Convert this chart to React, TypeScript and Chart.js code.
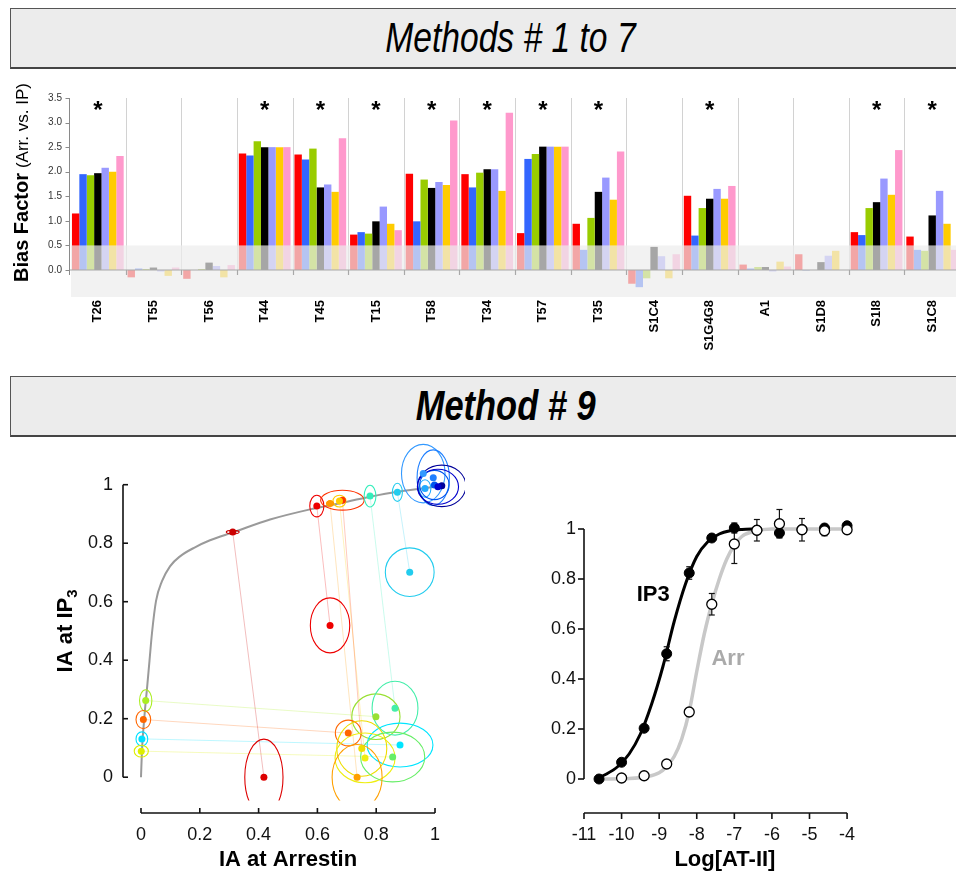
import React, { useEffect, useRef } from "react";
import { Chart, registerables } from "chart.js";

Chart.register(...registerables);

const FONT = "'Liberation Sans', Arial, Helvetica, sans-serif";
Chart.defaults.font.family = FONT;

// ---------------- Methods # 1 to 7 : bias factors ----------------
const categories = ["T26", "T55", "T56", "T44", "T45", "T15", "T58", "T34", "T57", "T35", "S1C4", "S1G4G8", "A1", "S1D8", "S1I8", "S1C8"];
const method1 = [1.15, -0.15, -0.18, 2.37, 2.35, 0.72, 1.96, 1.95, 0.75, 0.94, -0.28, 1.51, 0.11, 0.32, 0.77, 0.68];
const method2 = [1.95, 0.03, 0.0, 2.33, 2.25, 0.77, 0.99, 1.68, 2.26, 0.41, -0.35, 0.7, 0.03, -0.01, 0.71, 0.41];
const method3 = [1.93, 0.02, 0.02, 2.62, 2.47, 0.74, 1.84, 1.98, 2.36, 1.06, -0.17, 1.26, 0.06, 0.0, 1.26, 0.39];
const method4 = [1.97, 0.05, 0.15, 2.5, 1.68, 0.99, 1.67, 2.05, 2.51, 1.59, 0.47, 1.45, 0.06, 0.16, 1.38, 1.11];
const method5 = [2.08, -0.03, 0.08, 2.5, 1.74, 1.29, 1.79, 2.05, 2.51, 1.88, 0.28, 1.65, -0.03, 0.29, 1.86, 1.61];
const method6 = [2.0, -0.12, -0.15, 2.5, 1.59, 0.94, 1.73, 1.61, 2.51, 1.43, -0.17, 1.45, 0.17, 0.39, 1.53, 0.94];
const method7 = [2.32, 0.05, 0.1, 2.5, 2.68, 0.81, 3.04, 3.2, 2.51, 2.41, 0.32, 1.71, 0.07, 0.0, 2.44, 0.41];
const methodSeries = [method1, method2, method3, method4, method5, method6, method7];
const methodColors = ["#ff0000", "#3366ff", "#99cc00", "#000000", "#9999ff", "#ffcc00", "#ff99cc"];
const significant = [true, false, false, true, true, true, true, true, true, true, false, true, false, false, true, true];
const biasTicks = [0, 0.5, 1.0, 1.5, 2.0, 2.5, 3.0, 3.5];
const biasRange = [-0.55, 3.5];
const neutralBand = [-0.55, 0.5];

// ---------------- Method # 9 : IA scatter ----------------
const iaArrestin = [0.312, 0.598, 0.643, 0.685, 0.675, 0.643, 0.779, 0.872, 0.914, 0.96, 0.994, 0.966, 0.998, 1.023, 1.01, 0.016, 0.008, 0.003, 0.001, 0.799, 0.864, 0.705, 0.881, 0.751, 0.762, 0.856, 0.735, 0.418];
const iaIP3 = [0.838, 0.927, 0.519, 0.947, 0.944, 0.936, 0.961, 0.974, 0.701, 1.038, 1.024, 0.987, 0.999, 0.996, 0.993, 0.262, 0.197, 0.131, 0.089, 0.207, 0.236, 0.151, 0.11, 0.098, 0.066, 0.069, 0.0, 0.0];
const errArrestin = [0.022, 0.024, 0.067, 0.074, 0.022, 0.012, 0.02, 0.017, 0.083, 0.074, 0.055, 0.02, 0.05, 0.082, 0.07, 0.021, 0.025, 0.02, 0.024, 0.082, 0.078, 0.044, 0.112, 0.085, 0.102, 0.109, 0.085, 0.065];
const errIP3 = [0.006, 0.037, 0.094, 0.034, 0.02, 0.008, 0.037, 0.031, 0.083, 0.1, 0.095, 0.03, 0.05, 0.071, 0.06, 0.037, 0.031, 0.024, 0.02, 0.078, 0.092, 0.044, 0.075, 0.095, 0.085, 0.085, 0.112, 0.13];
const ligandColors = ["#cc0000", "#ee0000", "#ee0000", "#ff3300", "#ffcc00", "#ff9900", "#33eebb", "#22ccee", "#22ccee", "#3399ff", "#1e7fff", "#22aaff", "#0055ee", "#000099", "#0000cc", "#aaee22", "#ff6600", "#00e0ff", "#ddee00", "#99e033", "#44eeaa", "#ff6600", "#00e5ff", "#eedd00", "#eeee11", "#66ee66", "#ffa000", "#dd0000"];
const pairFrom = [0, 1, 5, 3, 4, 6, 7, 15, 16, 17, 18];
const pairTo = [27, 2, 26, 23, 24, 20, 8, 19, 21, 22, 25];
const curveArrestin = [0, 0.0034, 0.0119, 0.0204, 0.0289, 0.0374, 0.051, 0.0714, 0.0986, 0.1327, 0.1837, 0.2347, 0.313, 0.439, 0.585, 0.701, 0.779, 0.871, 0.949, 0.997];
const curveIP3 = [0, 0.092, 0.211, 0.303, 0.398, 0.493, 0.602, 0.67, 0.721, 0.755, 0.786, 0.81, 0.837, 0.881, 0.918, 0.942, 0.959, 0.976, 0.986, 0.993];
const iaTicks = [0, 0.2, 0.4, 0.6, 0.8, 1];

// ---------------- Dose response ----------------
const logConc = [-10.6, -10, -9.4, -8.8, -8.2, -7.6, -7, -6.4, -5.8, -5.2, -4.6, -4];
const ip3Resp = [0.0, 0.067, 0.203, 0.501, 0.824, 0.964, 1.004, 0.995, 0.984, 0.998, 1.004, 1.013];
const ip3Err = [0, 0.01, 0.01, 0.028, 0.025, 0.01, 0.02, 0.01, 0.017, 0.01, 0.008, 0.005];
const arrResp = [null, 0.004, 0.013, 0.06, 0.268, 0.699, 0.94, 0.995, 1.021, 0.997, 0.993, 0.997];
const arrErr = [0, 0, 0, 0.005, 0.015, 0.043, 0.078, 0.043, 0.057, 0.045, 0.02, 0.005];
const ip3CurveX = [-10.7, -10.4, -10.1, -9.8, -9.5, -9.2, -8.9, -8.6, -8.3, -8.0, -7.7, -7.4, -7.1, -6.8, -6.4];
const ip3CurveY = [0.0, 0.02, 0.05, 0.1, 0.18, 0.3, 0.45, 0.63, 0.78, 0.89, 0.95, 0.98, 0.993, 0.998, 1.0];
const arrCurveX = [-10.6, -9.8, -9.3, -9.0, -8.8, -8.6, -8.4, -8.2, -8.0, -7.8, -7.6, -7.4, -7.2, -7.0, -6.8, -6.5, -6.0, -4];
const arrCurveY = [0.0, 0.002, 0.01, 0.025, 0.05, 0.09, 0.16, 0.27, 0.43, 0.58, 0.7, 0.8, 0.88, 0.935, 0.97, 0.99, 1.0, 1.0];
const logTicks = [-11, -10, -9, -8, -7, -6, -5, -4];
const respTicks = [0, 0.2, 0.4, 0.6, 0.8, 1];

function hexToRgba(hex: string, a: number) {
  const n = parseInt(hex.slice(1), 16);
  return `rgba(${(n >> 16) & 255},${(n >> 8) & 255},${n & 255},${a})`;
}
function fmt(v: any) {
  return String(Math.round(Number(v) * 10) / 10);
}
function seg(ctx: any, x1: number, y1: number, x2: number, y2: number) {
  ctx.beginPath();
  ctx.moveTo(x1, y1);
  ctx.lineTo(x2, y2);
  ctx.stroke();
}
function fixY(width: number) {
  return (s: any) => {
    s.width = width;
    s.paddingTop = 0;
    s.paddingBottom = 0;
  };
}
function fixX(height: number) {
  return (s: any) => {
    s.height = height;
    s.paddingLeft = 0;
    s.paddingRight = 0;
  };
}

// ---------------- plugins ----------------
const biasPlugin = {
  id: "biasDecor",
  beforeDatasetsDraw(chart: any) {
    const { ctx, scales: { x, y } } = chart;
    const y0 = y.getPixelForValue(0);
    const yTop = y.getPixelForValue(biasTicks[biasTicks.length - 1]);
    ctx.save();
    ctx.strokeStyle = "#d2d2d2";
    ctx.lineWidth = 1;
    for (let i = 1; i < categories.length; i++) {
      const bx = Math.round((x.getPixelForValue(i - 1) + x.getPixelForValue(i)) / 2) + 0.5;
      seg(ctx, bx, yTop, bx, y0);
    }
    ctx.restore();
  },
  afterDatasetsDraw(chart: any) {
    const { ctx, chartArea, scales: { x, y } } = chart;
    const y0 = y.getPixelForValue(0);
    const yTop = y.getPixelForValue(biasTicks[biasTicks.length - 1]);
    ctx.save();
    const bTop = y.getPixelForValue(neutralBand[1]);
    const bBot = y.getPixelForValue(neutralBand[0]);
    ctx.fillStyle = "rgba(236,236,236,0.7)";
    ctx.fillRect(chartArea.left + 1, bTop, chartArea.right - chartArea.left, bBot - bTop);
    ctx.strokeStyle = "#a8a8a8";
    ctx.lineWidth = 1.2;
    seg(ctx, chartArea.left, y0, chartArea.right, y0);
    for (let i = 1; i < categories.length; i++) {
      const bx = Math.round((x.getPixelForValue(i - 1) + x.getPixelForValue(i)) / 2) + 0.5;
      seg(ctx, bx, y0, bx, y0 + 5);
    }
    ctx.strokeStyle = "#8a8a8a";
    ctx.lineWidth = 1;
    const lx = Math.round(chartArea.left) - 0.5;
    seg(ctx, lx, yTop, lx, y0 + 5);
    biasTicks.forEach((t) => {
      const py = Math.round(y.getPixelForValue(t)) + 0.5;
      seg(ctx, lx - 4, py, lx, py);
    });
    ctx.fillStyle = "#000";
    ctx.font = `bold 24px ${FONT}`;
    ctx.textAlign = "center";
    ctx.textBaseline = "alphabetic";
    significant.forEach((s, i) => {
      if (s) ctx.fillText("*", x.getPixelForValue(i), yTop + 20);
    });
    ctx.translate(22, y0 + 12);
    ctx.rotate(-Math.PI / 2);
    ctx.textAlign = "left";
    ctx.textBaseline = "middle";
    ctx.font = `bold 20px ${FONT}`;
    ctx.fillText("Bias Factor", 0, 0);
    const w = ctx.measureText("Bias Factor").width + 5;
    ctx.font = `17px ${FONT}`;
    ctx.fillText("(Arr. vs. IP)", w, 1);
    ctx.restore();
  },
};

const iaPlugin = {
  id: "iaDecor",
  beforeDatasetDraw(chart: any, args: any) {
    if (args.index !== 0) return;
    const { ctx, chartArea, scales: { x, y } } = chart;
    ctx.save();
    ctx.beginPath();
    ctx.rect(chartArea.left, chartArea.top - 10, chartArea.right - chartArea.left, y.getPixelForValue(-0.08) - chartArea.top + 10);
    ctx.clip();
    ctx.lineWidth = 1.1;
    for (let i = 0; i < iaArrestin.length; i++) {
      const cx = x.getPixelForValue(iaArrestin[i]);
      const cy = y.getPixelForValue(iaIP3[i]);
      const rx = Math.abs(x.getPixelForValue(iaArrestin[i] + errArrestin[i]) - cx);
      const ry = Math.abs(y.getPixelForValue(iaIP3[i] + errIP3[i]) - cy);
      ctx.strokeStyle = ligandColors[i];
      ctx.beginPath();
      ctx.ellipse(cx, cy, rx, ry, 0, 0, Math.PI * 2);
      ctx.stroke();
    }
    ctx.restore();
  },
  afterDraw(chart: any) {
    const { ctx, chartArea, scales: { x, y } } = chart;
    ctx.save();
    ctx.strokeStyle = "#111";
    ctx.lineWidth = 1.6;
    const ax = chartArea.left;
    const ay = chartArea.bottom;
    seg(ctx, ax, y.getPixelForValue(1), ax, y.getPixelForValue(0));
    iaTicks.forEach((t) => seg(ctx, ax, y.getPixelForValue(t), ax + 5, y.getPixelForValue(t)));
    seg(ctx, x.getPixelForValue(0), ay, x.getPixelForValue(1), ay);
    iaTicks.forEach((t) => seg(ctx, x.getPixelForValue(t), ay, x.getPixelForValue(t), ay - 5));
    ctx.fillStyle = "#000";
    ctx.font = `bold 22px ${FONT}`;
    ctx.textAlign = "center";
    ctx.textBaseline = "middle";
    ctx.fillText("IA at Arrestin", (x.getPixelForValue(0) + x.getPixelForValue(1)) / 2, ay + 47);
    ctx.translate(66, (y.getPixelForValue(0) + y.getPixelForValue(1)) / 2);
    ctx.rotate(-Math.PI / 2);
    ctx.textAlign = "left";
    const w1 = ctx.measureText("IA at IP").width;
    ctx.font = `bold 15px ${FONT}`;
    const w2 = ctx.measureText("3").width;
    const start = -(w1 + w2) / 2;
    ctx.font = `bold 22px ${FONT}`;
    ctx.fillText("IA at IP", start, 0);
    ctx.font = `bold 15px ${FONT}`;
    ctx.fillText("3", start + w1, 7);
    ctx.restore();
  },
};

const drPlugin = {
  id: "drDecor",
  beforeDatasetDraw(chart: any, args: any) {
    if (args.index !== 1) return;
    const { ctx, scales: { x, y } } = chart;
    ctx.save();
    ctx.strokeStyle = "#111";
    ctx.lineWidth = 1.2;
    const bar = (cx: number, v: number, e: number) => {
      if (!e) return;
      const px = x.getPixelForValue(cx);
      const top = y.getPixelForValue(v + e);
      const bot = y.getPixelForValue(v - e);
      seg(ctx, px, top, px, bot);
      seg(ctx, px - 3, top, px + 3, top);
      seg(ctx, px - 3, bot, px + 3, bot);
    };
    logConc.forEach((c, i) => {
      bar(c, ip3Resp[i], ip3Err[i]);
      if (arrResp[i] !== null) bar(c, arrResp[i] as number, arrErr[i]);
    });
    ctx.restore();
  },
  afterDatasetsDraw(chart: any) {
    const { ctx, scales: { x, y } } = chart;
    ctx.save();
    ctx.font = `bold 22px ${FONT}`;
    ctx.textAlign = "center";
    ctx.textBaseline = "middle";
    ctx.fillStyle = "#000";
    ctx.fillText("IP3", x.getPixelForValue(-9.16), y.getPixelForValue(0.737));
    ctx.fillStyle = "#aaaaaa";
    ctx.fillText("Arr", x.getPixelForValue(-7.17), y.getPixelForValue(0.48));
    ctx.restore();
  },
  afterDraw(chart: any) {
    const { ctx, chartArea, scales: { x, y } } = chart;
    ctx.save();
    ctx.strokeStyle = "#111";
    ctx.lineWidth = 1.6;
    const ax = chartArea.left;
    const ay = chartArea.bottom;
    seg(ctx, ax, y.getPixelForValue(1), ax, y.getPixelForValue(0));
    respTicks.forEach((t) => seg(ctx, ax - 6, y.getPixelForValue(t), ax, y.getPixelForValue(t)));
    seg(ctx, x.getPixelForValue(logTicks[0]), ay, x.getPixelForValue(logTicks[logTicks.length - 1]), ay);
    logTicks.forEach((t) => seg(ctx, x.getPixelForValue(t), ay, x.getPixelForValue(t), ay + 6));
    ctx.fillStyle = "#000";
    ctx.font = `bold 22px ${FONT}`;
    ctx.textAlign = "center";
    ctx.textBaseline = "middle";
    ctx.fillText("Log[AT-II]", x.getPixelForValue(-7.25), ay + 47);
    ctx.restore();
  },
};

// ---------------- configs ----------------
function biasConfig(): any {
  return {
    type: "bar",
    data: {
      labels: categories,
      datasets: methodSeries.map((s, i) => ({
        label: `Method ${i + 1}`,
        data: s,
        backgroundColor: methodColors[i],
        borderWidth: 0,
        barPercentage: 1,
        categoryPercentage: 0.93,
      })),
    },
    options: {
      animation: false,
      responsive: false,
      layout: { padding: { top: 28, right: 0, left: 0, bottom: 0 } },
      plugins: { legend: { display: false }, tooltip: { enabled: false } },
      scales: {
        x: {
          grid: { display: false, drawTicks: false },
          border: { display: false },
          ticks: { font: { size: 13, weight: "bold" }, color: "#000", maxRotation: 90, minRotation: 90, autoSkip: false, padding: 3 },
          afterFit: fixX(63),
        },
        y: {
          min: biasRange[0],
          max: biasRange[1],
          grid: { display: false, drawTicks: false },
          border: { display: false },
          afterBuildTicks: (s: any) => { s.ticks = biasTicks.map((v) => ({ value: v })); },
          ticks: { callback: (v: any) => Number(v).toFixed(1), font: { size: 10 }, color: "#333", padding: 8 },
          afterFit: fixY(70),
        },
      },
    },
    plugins: [biasPlugin],
  };
}

function iaConfig(): any {
  const datasets: any[] = [];
  datasets.push({
    data: iaArrestin.map((v, i) => ({ x: v, y: iaIP3[i] })),
    pointRadius: 3.5,
    pointBackgroundColor: ligandColors,
    pointBorderWidth: 0,
    showLine: false,
  });
  pairFrom.forEach((f, k) => {
    const t = pairTo[k];
    datasets.push({
      data: [{ x: iaArrestin[f], y: iaIP3[f] }, { x: iaArrestin[t], y: iaIP3[t] }],
      showLine: true,
      borderColor: hexToRgba(ligandColors[f], 0.26),
      borderWidth: 1,
      pointRadius: 0,
    });
  });
  datasets.push({
    data: curveArrestin.map((v, i) => ({ x: v, y: curveIP3[i] })),
    showLine: true,
    borderColor: "#9a9a9a",
    borderWidth: 2,
    pointRadius: 0,
    cubicInterpolationMode: "monotone",
  });
  return {
    type: "scatter",
    data: { datasets },
    options: {
      animation: false,
      responsive: false,
      layout: { padding: { top: 2, right: 15, left: 0, bottom: 0 } },
      plugins: { legend: { display: false }, tooltip: { enabled: false } },
      scales: {
        x: {
          type: "linear",
          min: -0.0612,
          max: 1.102,
          grid: { display: false, drawTicks: false },
          border: { display: false },
          afterBuildTicks: (s: any) => { s.ticks = iaTicks.map((v) => ({ value: v })); },
          ticks: { callback: fmt, font: { size: 18 }, color: "#111", padding: 11 },
          afterFit: fixX(60),
        },
        y: {
          type: "linear",
          min: -0.1224,
          max: 1.146,
          grid: { display: false, drawTicks: false },
          border: { display: false },
          afterBuildTicks: (s: any) => { s.ticks = iaTicks.map((v) => ({ value: v })); },
          ticks: { callback: fmt, font: { size: 18 }, color: "#111", padding: 10 },
          afterFit: fixY(123),
        },
      },
    },
    plugins: [iaPlugin],
  };
}

function drConfig(): any {
  const arrPts: any[] = [];
  logConc.forEach((c, i) => {
    if (arrResp[i] !== null) arrPts.push({ x: c, y: arrResp[i] });
  });
  return {
    type: "scatter",
    data: {
      datasets: [
        { data: arrPts, pointRadius: 5, pointBackgroundColor: "#fff", pointBorderColor: "#000", pointBorderWidth: 1.3, showLine: false },
        { data: logConc.map((c, i) => ({ x: c, y: ip3Resp[i] })), pointRadius: 5, pointBackgroundColor: "#000", pointBorderColor: "#000", pointBorderWidth: 1, showLine: false },
        { data: ip3CurveX.map((c, i) => ({ x: c, y: ip3CurveY[i] })), showLine: true, borderColor: "#000", borderWidth: 3, pointRadius: 0, cubicInterpolationMode: "monotone" },
        { data: arrCurveX.map((c, i) => ({ x: c, y: arrCurveY[i] })), showLine: true, borderColor: "#c8c8c8", borderWidth: 3.5, pointRadius: 0, cubicInterpolationMode: "monotone" },
      ],
    },
    options: {
      animation: false,
      responsive: false,
      layout: { padding: { top: 62, right: 86, left: 0, bottom: 0 } },
      plugins: { legend: { display: false }, tooltip: { enabled: false } },
      scales: {
        x: {
          type: "linear",
          min: -11,
          max: -3.39,
          grid: { display: false, drawTicks: false },
          border: { display: false },
          afterBuildTicks: (s: any) => { s.ticks = logTicks.map((v) => ({ value: v })); },
          ticks: { callback: fmt, font: { size: 18 }, color: "#111", padding: 11 },
          afterFit: fixX(60),
        },
        y: {
          type: "linear",
          min: -0.136,
          max: 1.116,
          grid: { display: false, drawTicks: false },
          border: { display: false },
          afterBuildTicks: (s: any) => { s.ticks = respTicks.map((v) => ({ value: v })); },
          ticks: { callback: fmt, font: { size: 18 }, color: "#111", padding: 8 },
          afterFit: fixY(104),
        },
      },
    },
    plugins: [drPlugin],
  };
}

function ChartCanvas(props: { make: () => any; left: number; top: number; width: number; height: number }) {
  const ref = useRef<HTMLCanvasElement | null>(null);
  useEffect(() => {
    const chart = new Chart(ref.current as HTMLCanvasElement, props.make());
    return () => chart.destroy();
  }, []);
  return (
    <canvas
      ref={ref}
      width={props.width}
      height={props.height}
      style={{ position: "absolute", left: props.left, top: props.top, width: props.width, height: props.height, display: "block" }}
    />
  );
}

function Header(props: { top: number; text: string; bold: boolean; scale: number; center: number }) {
  return (
    <div
      style={{
        position: "absolute",
        left: 10,
        top: props.top,
        width: 990,
        height: 58,
        background: "#ececec",
        borderTop: "1.5px solid #555",
        borderLeft: "1.5px solid #555",
        borderBottom: "2px solid #444",
      }}
    >
      <div
        style={{
          position: "absolute",
          left: -11.5,
          top: 0,
          width: props.center * 2,
          height: 58,
          display: "flex",
          alignItems: "center",
          justifyContent: "center",
        }}
      >
        <span
          style={{
            display: "inline-block",
            fontFamily: FONT,
            fontStyle: "italic",
            fontWeight: props.bold ? "bold" : "normal",
            fontSize: 42,
            lineHeight: "58px",
            whiteSpace: "nowrap",
            color: "#000",
            transform: `scaleX(${props.scale})`,
          }}
        >
          {props.text}
        </span>
      </div>
    </div>
  );
}

export default function App() {
  return (
    <div style={{ position: "fixed", left: 0, top: 0, width: 956, height: 873, overflow: "hidden", background: "#fff" }}>
      <Header top={8} text="Methods # 1 to 7" bold={false} scale={0.8} center={511} />
      <ChartCanvas make={biasConfig} left={0} top={70} width={960} height={290} />
      <Header top={376} text="Method # 9" bold={true} scale={0.82} center={506} />
      <ChartCanvas make={iaConfig} left={0} top={438} width={480} height={435} />
      <ChartCanvas make={drConfig} left={480} top={438} width={476} height={435} />
    </div>
  );
}
